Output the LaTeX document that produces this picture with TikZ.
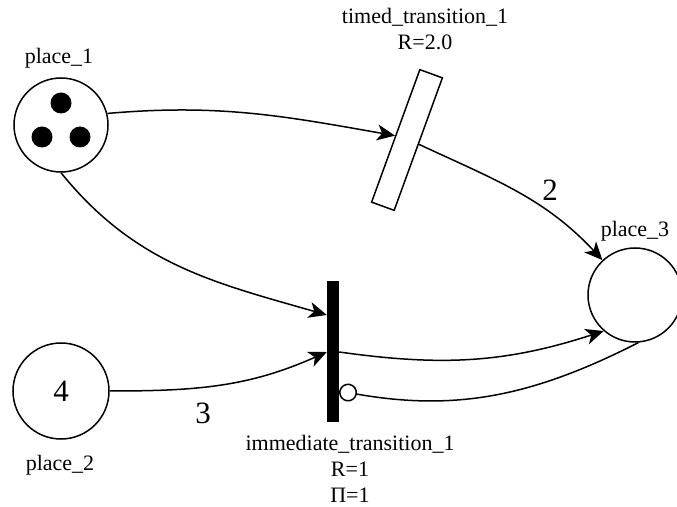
\documentclass[tikz,border=0pt]{standalone}
\usepackage{fontspec}
\setmainfont{Liberation Serif}
\usetikzlibrary{arrows.meta,calc}
\begin{document}
\begin{tikzpicture}[x=1pt,y=1pt,
  place/.style={circle,draw,line width=1.5pt,minimum size=94pt,inner sep=0pt},
  lbl/.style={font=\fontsize{22}{26}\selectfont,align=center,inner sep=0pt},
  num/.style={font=\fontsize{31}{36}\selectfont,inner sep=0pt},
  arc/.style={line width=1.5pt,-{Stealth[length=18pt,width=16pt,inset=5pt]}},
  inhib/.style={line width=1.5pt,-{Circle[open,length=18pt,width=18pt]}}]
\useasboundingbox (0,0) rectangle (677,506);
% places
\node[place] (p1) at (61,381) {};
\node[place,minimum size=96pt,font=\fontsize{31}{36}\selectfont] (p2) at (61,115) {4};
\node[place] (p3) at (635,211) {};
% tokens
\fill ([shift={(0,22)}]p1.center) circle (10.5pt);
\fill ([shift={(-19,-12)}]p1.center) circle (10.5pt);
\fill ([shift={(19,-12)}]p1.center) circle (10.5pt);
% transitions
\node[draw,line width=1.5pt,minimum width=24pt,minimum height=141pt,inner sep=0pt,rotate=-20] (t1) at (407,366) {};
\node[fill=black,minimum width=12pt,minimum height=141pt,inner sep=0pt] (i1) at (333,154) {};
% arcs
\draw[arc] (p1.14) to[out=5,in=170] (t1.west);
\draw[arc] (t1.east) to[out=-25,in=133] (p3.133);
\draw[arc] (p1.south) to[out=-51,in=164] ([yshift=37pt]i1.west);
\draw[arc] (p2.east) to[out=0,in=-156] (i1.west);
\draw[arc] (i1.east) to[out=-8,in=-162] (p3.229);
\draw[inhib] (p3.-86) to[out=207,in=-10] ([yshift=-39pt]i1.east);
% labels
\node[lbl] (l1) at (59,448) {place\_1};
\node[lbl] (l2) at (60,41) {place\_2};
\node[lbl] (l3) at (635,275) {place\_3};
\node[lbl] (lt) at (425,477) {timed\_transition\_1\\R=2.0};
\node[lbl] (li) at (350,37) {immediate\_transition\_1\\R=1\\Π=1};
\node[num] (w2) at (550,316) {2};
\node[num] (w3) at (203,93) {3};
\end{tikzpicture}
\end{document}
